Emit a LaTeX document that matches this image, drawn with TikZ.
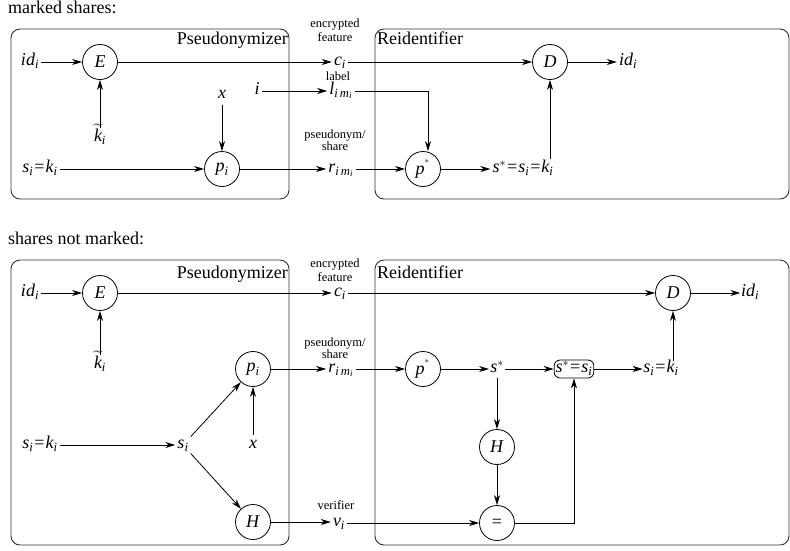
\documentclass[tikz,border=0pt]{standalone}
\usepackage{amsmath}
\usepackage{fontspec}
\setmainfont{Liberation Serif}
\usetikzlibrary{arrows.meta,calc}
\newcommand{\mi}[1]{\textit{#1}}
\newcommand{\eqs}{\textrm{\kern1pt=\kern1pt}}
\tikzset{
  circ/.style={draw, circle, minimum size=35pt, inner sep=0pt, line width=0.8pt},
  lbl/.style={inner sep=2pt, text height=11pt, text depth=4pt},
  note/.style={font=\fontsize{12.5}{14}\selectfont, align=center, inner sep=0pt},
  arr/.style={-{Stealth[length=10pt,width=6pt,inset=3pt]}, line width=0.8pt},
  box/.style={draw=black!80, rounded corners=9pt, line width=0.9pt},
  title/.style={inner sep=1pt}
}
\begin{document}
\begin{tikzpicture}[x=1pt,y=-1pt,font=\fontsize{18}{21}\selectfont]
\useasboundingbox (0,0) rectangle (790,550);

% ---------------- marked shares ----------------
\node[title, anchor=base west] (t1) at (7,13) {marked shares:};
\draw[box] (11,29) rectangle (289,199);
\draw[box] (375,29) rectangle (789,199);
\node[title, anchor=north east] (pz1) at (289,31) {Pseudonymizer};
\node[title, anchor=north west] (ri1) at (376,31) {Reidentifier};

\node[lbl] (id1) at (30,62) {$\mi{id}_{\mi{i}}$};
\node[circ] (E1) at (100,62) {\mi{E}};
\node[lbl] (kt1) at (100,138) {$\widetilde{\mi{k}}_{\mi{i}}$};
\node[lbl] (c1) at (340,62) {$\mi{c}_{\mi{i}}$};
\node[note] (n1) at (335,30) {encrypted\\feature};
\node[circ] (D1) at (550,62) {\mi{D}};
\node[lbl] (io1) at (628,62) {$\mi{id}_{\mi{i}}$};

\node[lbl] (x1) at (222,95) {\mi{x}};
\node[lbl] (i1) at (257,91) {\mi{i}};
\node[lbl] (l1) at (341,91) {$\mi{l}_{\mi{i}\,\mi{m}_{\mi{i}}}$};
\node[note] (n2) at (338,76) {label};

\node[lbl] (sk1) at (40,169) {$\mi{s}_{\mi{i}}\eqs\mi{k}_{\mi{i}}$};
\node[circ] (p1) at (222,169) {$\mi{p}_{\mi{i}}$};
\node[lbl] (r1) at (341,169) {$\mi{r}_{\mi{i}\,\mi{m}_{\mi{i}}}$};
\node[note] (n3) at (335,140) {pseudonym/\\[-2pt]share};
\node[circ] (ps1) at (423,169) {$\mi{p}^{^*}$};
\node[lbl] (ss1) at (523,169) {$\mi{s}^*\eqs\mi{s}_{\mi{i}}\eqs\mi{k}_{\mi{i}}$};

\draw[arr] (id1) -- (E1);
\draw[arr] (kt1) -- (E1);
\draw[arr] (E1) -- (c1);
\draw[arr] (c1) -- (D1);
\draw[arr] (D1) -- (io1);
\draw[arr] (x1) -- (p1);
\draw[arr] (i1) -- (l1);
\draw[arr] (l1) -| ([xshift=5pt]ps1.north);
\draw[arr] (sk1) -- (p1);
\draw[arr] (p1) -- (r1);
\draw[arr] (r1) -- (ps1);
\draw[arr] (ps1) -- (ss1);
\draw[arr] (ss1.north -| D1) -- (D1);

% ---------------- shares not marked ----------------
\node[title, anchor=base west] (t2) at (7,244) {shares not marked:};
\draw[box] (11,260) rectangle (289,545);
\draw[box] (375,260) rectangle (789,545);
\node[title, anchor=north east] (pz2) at (289,265) {Pseudonymizer};
\node[title, anchor=north west] (ri2) at (376,265) {Reidentifier};

\node[lbl] (id2) at (30,293) {$\mi{id}_{\mi{i}}$};
\node[circ] (E2) at (100,293) {\mi{E}};
\node[lbl] (kt2) at (100,365) {$\widetilde{\mi{k}}_{\mi{i}}$};
\node[lbl] (c2) at (340,293) {$\mi{c}_{\mi{i}}$};
\node[note] (n4) at (335,270) {encrypted\\feature};
\node[circ] (D2) at (673,293) {\mi{D}};
\node[lbl, inner sep=0.5pt] (io2) at (750,293) {$\mi{id}_{\mi{i}}$};

\node[circ] (p2) at (253,369) {$\mi{p}_{\mi{i}}$};
\node[lbl] (r2) at (341,369) {$\mi{r}_{\mi{i}\,\mi{m}_{\mi{i}}}$};
\node[note] (n5) at (335,348) {pseudonym/\\[-2pt]share};
\node[lbl] (x2) at (253,445) {\mi{x}};
\node[lbl] (sk2) at (40,445) {$\mi{s}_{\mi{i}}\eqs\mi{k}_{\mi{i}}$};
\node[lbl] (s2) at (183,445) {$\mi{s}_{\mi{i}}$};
\node[circ] (H2) at (253,522) {\mi{H}};
\node[lbl] (v2) at (339,523) {$\mi{v}_{\mi{i}}$};
\node[note] (n6) at (336,505) {verifier};

\node[circ] (ps2) at (423,369) {$\mi{p}^{^*}$};
\node[lbl, inner sep=1pt] (st2) at (497,369) {$\mi{s}^*$};
\node[draw, rounded corners=6pt, inner sep=1.5pt, line width=0.8pt, text height=11pt, text depth=4pt] (bx2) at (574,369) {$\mi{s}^*\eqs\mi{s}_{\mi{i}}$};
\node[lbl, inner sep=0.5pt] (sk3) at (661,369) {$\mi{s}_{\mi{i}}\eqs\mi{k}_{\mi{i}}$};
\node[circ] (H3) at (497,447) {\mi{H}};
\node[circ] (eq2) at (497,523) {=};

\draw[arr] (id2) -- (E2);
\draw[arr] (kt2) -- (E2);
\draw[arr] (E2) -- (c2);
\draw[arr] (c2) -- (D2);
\draw[arr] (D2) -- (io2);
\draw[arr] (x2) -- (p2);
\draw[arr] (sk2) -- (s2);
\draw[arr] (s2) -- (p2);
\draw[arr] (s2) -- (H2);
\draw[arr] (p2) -- (r2);
\draw[arr] (H2) -- (H2 -| v2.west);
\draw[arr] (r2) -- (ps2);
\draw[arr] (ps2) -- (st2);
\draw[arr] (st2) -- (bx2);
\draw[arr] (bx2) -- (sk3);
\draw[arr] (sk3.north -| D2) -- (D2);
\draw[arr] (st2) -- (H3);
\draw[arr] (H3) -- (eq2);
\draw[arr] (v2) -- (eq2);
\draw[arr] (eq2) -| (bx2);
\end{tikzpicture}
\end{document}
